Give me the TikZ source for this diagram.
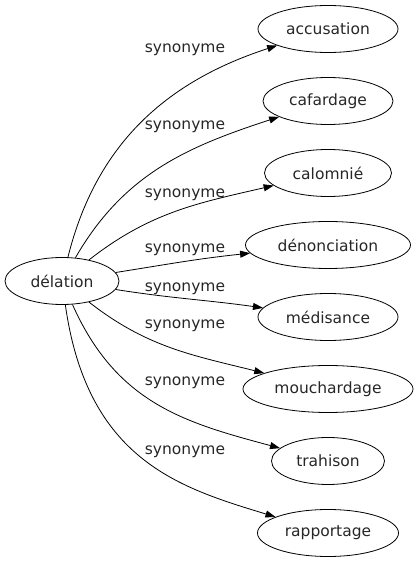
\documentclass[tikz,border=0pt]{standalone}
\usepackage{fontspec}
\setmainfont{DejaVu Sans}
\usetikzlibrary{shapes.geometric, arrows.meta}
\tikzset{
        mot/.style={ellipse, draw, line width=0.8pt, inner sep=0pt, minimum height=47pt,
                text=black!85, font=\fontsize{15.5}{18}\selectfont},
        syn/.style={text=black!85, font=\fontsize{15.5}{18}\selectfont},
        lien/.style={-{Triangle[length=10pt,width=7pt]}, line width=0.8pt}
}
\begin{document}
\begin{tikzpicture}[x=1pt, y=1pt]
                \useasboundingbox (0,0) rectangle (418,563);
                \node[mot, minimum width=114pt] (del) at (62,282) {délation};
                \node[mot, minimum width=140pt] (acc) at (328,534) {accusation};
                \node[mot, minimum width=130pt] (caf) at (328,462) {cafardage};
                \node[mot, minimum width=127pt] (cal) at (328,390) {calomnié};
                \node[mot, minimum width=165pt] (den) at (328,318) {dénonciation};
                \node[mot, minimum width=140pt] (med) at (328,246) {médisance};
                \node[mot, minimum width=170pt] (mou) at (328,174) {mouchardage};
                \node[mot, minimum width=113pt] (tra) at (328,102) {trahison};
                \node[mot, minimum width=141pt] (rap) at (328,30) {rapportage};
                \node[syn] (s1) at (185,513) {synonyme};
                \node[syn] (s2) at (185,436) {synonyme};
                \node[syn] (s3) at (185,368) {synonyme};
                \node[syn] (s4) at (185,313) {synonyme};
                \node[syn] (s5) at (185,274) {synonyme};
                \node[syn] (s6) at (185,237) {synonyme};
                \node[syn] (s7) at (185,180) {synonyme};
                \node[syn] (s8) at (185,111) {synonyme};
                \draw[lien] (del) to[out=76, in=198] (acc);
                \draw[lien] (del) to[out=60, in=198] (caf);
                \draw[lien] (del) to[out=38, in=193] (cal);
                \draw[lien] (del) to[out=9, in=186] (den);
                \draw[lien] (del) to[out=-9, in=172] (med);
                \draw[lien] (del) to[out=-38, in=166] (mou);
                \draw[lien] (del) to[out=-66, in=165, out looseness=1.1] (tra);
                \draw[lien] (del) to[out=-82, in=163, out looseness=1.35, in looseness=0.85] (rap);
\end{tikzpicture}
\end{document}
